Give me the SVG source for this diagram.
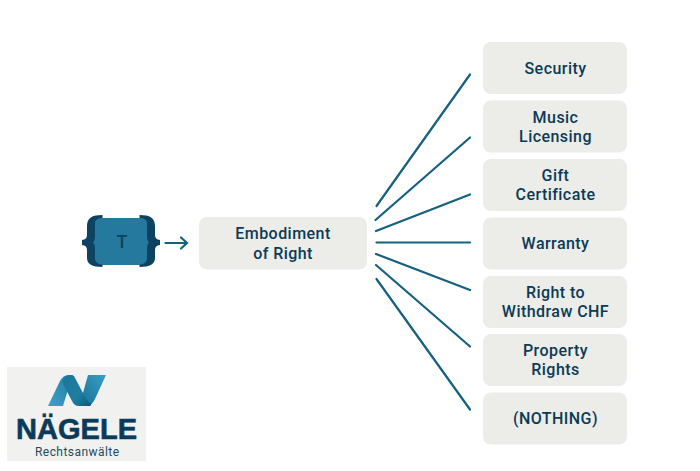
<svg xmlns="http://www.w3.org/2000/svg" width="700" height="471" viewBox="0 0 700 471">
<style>
.box{fill:#ecede8}
.t{font-family:Roboto,"Noto Sans",sans-serif;font-size:16px;font-weight:500;letter-spacing:.45px;fill:#0b3a57;text-anchor:middle}
.c{stroke:#14607f;stroke-width:2.200;fill:none;stroke-linecap:round}
.br{fill:#0d4261}
</style>
<defs>
<linearGradient id="g1" x1="0" y1="1" x2="1" y2="0"><stop offset="0" stop-color="#3fa0c6"/><stop offset="1" stop-color="#1f7da3"/></linearGradient>
<linearGradient id="g2" x1="0" y1="0" x2="1" y2="1"><stop offset="0" stop-color="#1d7699"/><stop offset=".6" stop-color="#1f7da3"/><stop offset="1" stop-color="#0f5778"/></linearGradient>
<linearGradient id="g3" x1="0" y1="1" x2="1" y2="0"><stop offset="0" stop-color="#1b7296"/><stop offset="1" stop-color="#37a0c6"/></linearGradient>
</defs>
<rect width="700" height="471" fill="#fff"/>
<g id="connectors">
<line class="c" x1="376.500" y1="206" x2="470" y2="74.500"/>
<line class="c" x1="375.500" y1="220" x2="470" y2="137.500"/>
<line class="c" x1="376" y1="231" x2="470" y2="194.500"/>
<line class="c" x1="376.500" y1="242.500" x2="470" y2="242.500"/>
<line class="c" x1="376" y1="254" x2="470" y2="290"/>
<line class="c" x1="376" y1="265" x2="470" y2="346.500"/>
<line class="c" x1="376.500" y1="279" x2="470" y2="409.500"/>
<path class="c" d="M165.500 243H187M181 237.500L187 243L181 248.500"/>
</g>
<g id="icon-token">
<rect x="92" y="218" width="58" height="47" fill="#25799f"/>
<path class="br" d="M102.500 215C92 215 87 218 87 226V235C87 238 85.500 239.500 82 240V245C85.500 245.500 87 247 87 250V258C87 264 92 267 102.500 267V264.500C98 264.500 95 262 95 258V250C95 246 94.500 244 93 242.500C94.500 241 95 239 95 235V223C95 220 98 218 102.500 218Z"/>
<path class="br" d="M139.500 215C150 215 155 218 155 226V235C155 238 156.500 239.500 160 240V245C156.500 245.500 155 247 155 250V258C155 264 150 267 139.500 267V264.500C144 264.500 147 262 147 258V250C147 246 147.500 244 149 242.500C147.500 241 147 239 147 235V223C147 220 144 218 139.500 218Z"/>
<text x="122" y="248" style="font-family:Roboto,sans-serif;font-size:18px;font-weight:500;fill:#0e4261;text-anchor:middle">T</text>
</g>
<g id="node-embodiment"><rect class="box" x="199" y="217" width="168" height="52.500" rx="8"/><text class="t" x="283" y="239">Embodiment</text><text class="t" x="283" y="259">of Right</text></g>
<g id="node-security"><rect class="box" x="483" y="42" width="144" height="52" rx="8"/><text class="t" x="555.500" y="74">Security</text></g>
<g id="node-music"><rect class="box" x="483" y="100.500" width="144" height="52" rx="8"/><text class="t" x="555.500" y="123">Music</text><text class="t" x="555.500" y="142">Licensing</text></g>
<g id="node-gift"><rect class="box" x="483" y="159" width="144" height="52" rx="8"/><text class="t" x="555.500" y="181">Gift</text><text class="t" x="555.500" y="200">Certificate</text></g>
<g id="node-warranty"><rect class="box" x="483" y="217.500" width="144" height="52" rx="8"/><text class="t" x="555.500" y="249">Warranty</text></g>
<g id="node-withdraw"><rect class="box" x="483" y="276" width="144" height="52" rx="8"/><text class="t" x="555.500" y="298">Right to</text><text class="t" x="555.500" y="317">Withdraw CHF</text></g>
<g id="node-property"><rect class="box" x="483" y="334" width="144" height="52" rx="8"/><text class="t" x="555.500" y="356">Property</text><text class="t" x="555.500" y="375">Rights</text></g>
<g id="node-nothing"><rect class="box" x="483" y="392.500" width="144" height="52" rx="8"/><text class="t" x="555.500" y="424">(NOTHING)</text></g>
<g id="logo">
<rect x="7" y="367" width="139" height="94" fill="#f1f2ef"/>
<path fill="url(#g3)" d="M88 375H106L95 399Q92 405 88 406Q83 399 83 393Z"/>
<path fill="url(#g1)" d="M48 406L60 381Q63 375 69 375H73L67 393L63 406Z"/>
<path fill="url(#g2)" d="M66 376Q70 374 74 376L83 393Q86 400 91 404Q92 406 88 406H79Q74 406 72 401L63 384Q62 379 66 376Z"/>
<text x="76.500" y="439" style="font-family:'Liberation Sans',sans-serif;font-size:29px;font-weight:700;fill:#0c3a59;stroke:#0c3a59;stroke-width:.6px;text-anchor:middle" textLength="121" lengthAdjust="spacingAndGlyphs">NÄGELE</text>
<text x="77" y="456" style="font-family:Roboto,sans-serif;font-size:12px;fill:#1c4a66;text-anchor:middle" textLength="84" lengthAdjust="spacing">Rechtsanwälte</text>
</g>
</svg>
